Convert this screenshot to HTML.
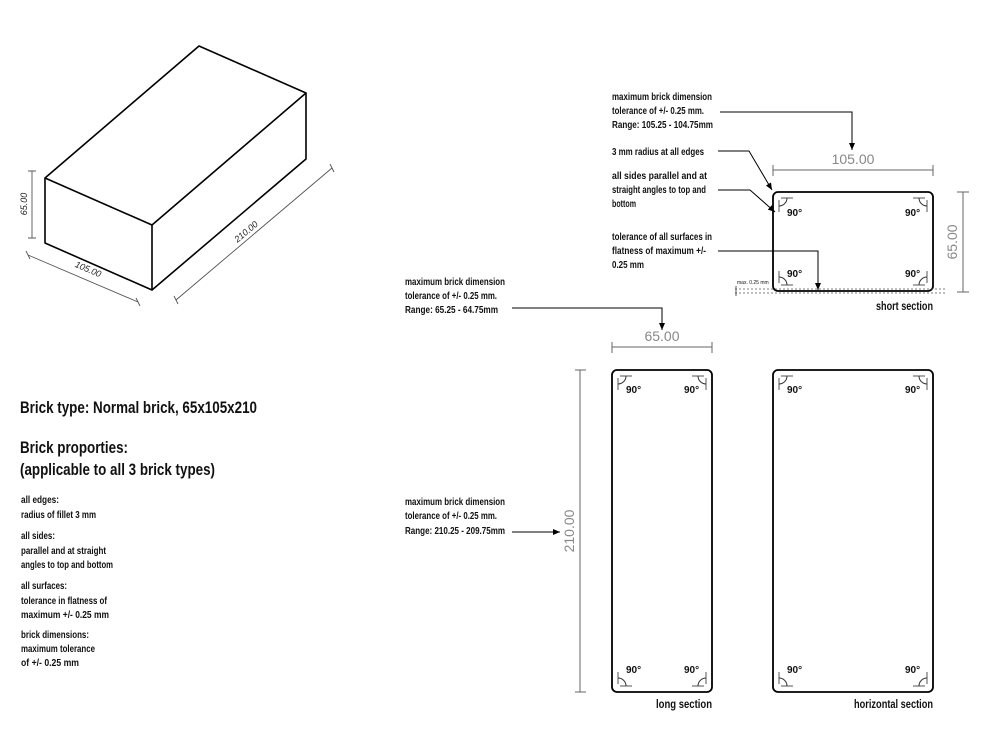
<!DOCTYPE html>
<html><head><meta charset="utf-8"><style>html,body{margin:0;padding:0;background:#fff}svg{display:block}</style></head>
<body>
<svg width="1000" height="750" viewBox="0 0 1000 750" xmlns="http://www.w3.org/2000/svg" font-family="'Liberation Sans Narrow','Liberation Sans',sans-serif">
<defs>
<marker id="ar" markerWidth="8" markerHeight="8" refX="7" refY="4" orient="auto" markerUnits="userSpaceOnUse"><path d="M0,1 L7,4 L0,7z" fill="#000"/></marker>
<g id="c"><path d="M8,6 H20 M6,8 V20" stroke="#555" stroke-width="1" fill="none"/><path d="M6,14 A8,8 0 0 0 14,6" stroke="#333" stroke-width="1" fill="none"/></g>
</defs>
<g stroke="#000" stroke-width="1.6" fill="none" stroke-linejoin="round">
<path d="M45,178 L152,225 L306,93 L199,46 Z"/>
<path d="M45,178 V243 L152,290 V225"/>
<path d="M152,290 L306,159 V93"/>
</g>
<g stroke="#555" stroke-width="0.9" fill="none">
<path d="M32,171 V238 M28,171 H36 M28,238 H36"/>
<path d="M28,255 L138,302 M26,251 L30,259 M136,298 L140,306"/>
<path d="M176,300 L332,168 M174,296 L178,304 M330,164 L334,172"/>
</g>
<g font-family="'Liberation Sans',sans-serif" font-style="italic" font-size="9" fill="#222">
<text transform="translate(27,204) rotate(-90)" text-anchor="middle">65.00</text>
<text transform="translate(87,272) rotate(23)" text-anchor="middle">105.00</text>
<text transform="translate(248,234) rotate(-40)" text-anchor="middle">210.00</text>
</g>
<g font-weight="bold" fill="#111" font-size="17">
<text x="20" y="413" textLength="237" lengthAdjust="spacingAndGlyphs">Brick type: Normal brick, 65x105x210</text>
<text x="20" y="453" textLength="108" lengthAdjust="spacingAndGlyphs">Brick proporties:</text>
<text x="20" y="475" textLength="195" lengthAdjust="spacingAndGlyphs">(applicable to all 3 brick types)</text>
</g>
<g font-size="10.5" fill="#111" font-weight="bold">
<text x="21" y="503" textLength="38" lengthAdjust="spacingAndGlyphs">all edges:</text>
<text x="21" y="518" textLength="75" lengthAdjust="spacingAndGlyphs">radius of fillet 3 mm</text>
<text x="21" y="539" textLength="34" lengthAdjust="spacingAndGlyphs">all sides:</text>
<text x="21" y="554" textLength="85" lengthAdjust="spacingAndGlyphs">parallel and at straight</text>
<text x="21" y="568" textLength="92" lengthAdjust="spacingAndGlyphs">angles to top and bottom</text>
<text x="21" y="589" textLength="46" lengthAdjust="spacingAndGlyphs">all surfaces:</text>
<text x="21" y="604" textLength="86" lengthAdjust="spacingAndGlyphs">tolerance in flatness of</text>
<text x="21" y="618" textLength="88" lengthAdjust="spacingAndGlyphs">maximum +/- 0.25 mm</text>
<text x="21" y="638" textLength="68" lengthAdjust="spacingAndGlyphs">brick dimensions:</text>
<text x="21" y="652" textLength="74" lengthAdjust="spacingAndGlyphs">maximum tolerance</text>
<text x="21" y="666" textLength="58" lengthAdjust="spacingAndGlyphs">of +/- 0.25 mm</text>
</g>
<g stroke="#000" stroke-width="1.8" fill="none">
<rect x="773" y="192" width="160" height="99" rx="5"/>
<rect x="612" y="370" width="100" height="322" rx="5"/>
<rect x="773" y="370" width="160" height="322" rx="5"/>
</g>
<g>
<use href="#c" transform="translate(773,192)"/><use href="#c" transform="translate(933,192) scale(-1,1)"/><use href="#c" transform="translate(773,291) scale(1,-1)"/><use href="#c" transform="translate(933,291) scale(-1,-1)"/>
<use href="#c" transform="translate(612,370)"/><use href="#c" transform="translate(712,370) scale(-1,1)"/><use href="#c" transform="translate(612,692) scale(1,-1)"/><use href="#c" transform="translate(712,692) scale(-1,-1)"/>
<use href="#c" transform="translate(773,370)"/><use href="#c" transform="translate(933,370) scale(-1,1)"/><use href="#c" transform="translate(773,692) scale(1,-1)"/><use href="#c" transform="translate(933,692) scale(-1,-1)"/>
</g>
<g font-size="10" font-weight="bold" fill="#111">
<text x="787" y="216">90°</text><text x="905" y="216">90°</text><text x="787" y="277">90°</text><text x="905" y="277">90°</text>
<text x="626" y="393">90°</text><text x="684" y="393">90°</text><text x="626" y="673">90°</text><text x="684" y="673">90°</text>
<text x="787" y="393">90°</text><text x="905" y="393">90°</text><text x="787" y="673">90°</text><text x="905" y="673">90°</text>
</g>
<g stroke="#555" stroke-width="0.8" stroke-dasharray="2,2"><path d="M735,289 H945 M735,293 H945"/></g>
<text x="737" y="284" font-size="5" fill="#111">max. 0.25 mm</text>
<path d="M736,286 V296" stroke="#333" stroke-width="0.8"/>
<g stroke="#666" stroke-width="1" fill="none">
<path d="M773,170 H933 M773,165 V176 M933,165 V176"/>
<path d="M963,192 V292 M957,192 H969 M957,292 H969"/>
<path d="M612,347 H712 M612,342 V353 M712,342 V353"/>
<path d="M580,370 V692 M575,370 H586 M575,692 H586"/>
</g>
<g font-family="'Liberation Sans',sans-serif" font-size="14" fill="#888">
<text x="853" y="164" text-anchor="middle">105.00</text>
<text x="662" y="341" text-anchor="middle">65.00</text>
<text transform="translate(957,242) rotate(-90)" text-anchor="middle">65.00</text>
<text transform="translate(574,531) rotate(-90)" text-anchor="middle">210.00</text>
</g>
<g font-size="10.5" font-weight="bold" fill="#111">
<text x="612" y="100" textLength="100" lengthAdjust="spacingAndGlyphs">maximum brick dimension</text>
<text x="612" y="114" textLength="92" lengthAdjust="spacingAndGlyphs">tolerance of +/- 0.25 mm.</text>
<text x="612" y="128" textLength="101" lengthAdjust="spacingAndGlyphs">Range: 105.25 - 104.75mm</text>
<text x="612" y="155" textLength="92" lengthAdjust="spacingAndGlyphs">3 mm radius at all edges</text>
<text x="612" y="179" textLength="95" lengthAdjust="spacingAndGlyphs">all sides parallel and at</text>
<text x="612" y="193" textLength="94" lengthAdjust="spacingAndGlyphs">straight angles to top and</text>
<text x="612" y="207" textLength="24" lengthAdjust="spacingAndGlyphs">bottom</text>
<text x="612" y="240" textLength="100" lengthAdjust="spacingAndGlyphs">tolerance of all surfaces in</text>
<text x="612" y="254" textLength="94" lengthAdjust="spacingAndGlyphs">flatness of maximum +/-</text>
<text x="612" y="268" textLength="32" lengthAdjust="spacingAndGlyphs">0.25 mm</text>
<text x="405" y="285" textLength="100" lengthAdjust="spacingAndGlyphs">maximum brick dimension</text>
<text x="405" y="299" textLength="92" lengthAdjust="spacingAndGlyphs">tolerance of +/- 0.25 mm.</text>
<text x="405" y="313" textLength="93" lengthAdjust="spacingAndGlyphs">Range: 65.25 - 64.75mm</text>
<text x="405" y="505" textLength="100" lengthAdjust="spacingAndGlyphs">maximum brick dimension</text>
<text x="405" y="519" textLength="92" lengthAdjust="spacingAndGlyphs">tolerance of +/- 0.25 mm.</text>
<text x="405" y="534" textLength="100" lengthAdjust="spacingAndGlyphs">Range: 210.25 - 209.75mm</text>
</g>
<g stroke="#000" stroke-width="1" fill="none" marker-end="url(#ar)">
<path d="M720,112 H852 V150"/>
<path d="M718,151 H749 L772,190"/>
<path d="M718,190 H750 L775,212"/>
<path d="M718,251 H818 V290"/>
<path d="M512,308 H662 V330"/>
<path d="M512,532 H560"/>
</g>
<g font-size="12" font-weight="bold" fill="#111">
<text x="876" y="310" textLength="57" lengthAdjust="spacingAndGlyphs">short section</text>
<text x="656" y="708" textLength="56" lengthAdjust="spacingAndGlyphs">long section</text>
<text x="854" y="708" textLength="79" lengthAdjust="spacingAndGlyphs">horizontal section</text>
</g>
</svg>
</body></html>
